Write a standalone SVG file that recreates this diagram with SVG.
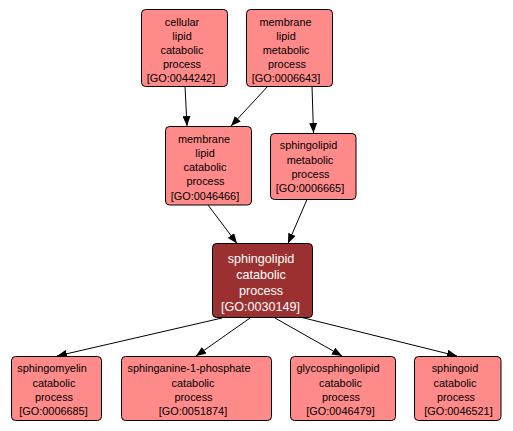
<svg xmlns="http://www.w3.org/2000/svg" width="513" height="431" viewBox="0 0 513 431">
<style>
.n rect{fill:#FF8A8A;stroke:#000;stroke-width:1}
.n text{font-family:"Liberation Sans",Arial,sans-serif;font-size:10.9px;fill:#000;text-anchor:middle}
.c rect{fill:#9B3030;stroke:#000;stroke-width:1}
.c text{font-family:"Liberation Sans",Arial,sans-serif;font-size:12.6px;fill:#fff;text-anchor:middle}
.e line{stroke:#000;stroke-width:1;marker-end:url(#a)}
</style>
<defs>
<marker id="a" markerWidth="10" markerHeight="8" refX="10" refY="4" orient="auto" markerUnits="userSpaceOnUse">
<polygon points="0,0 10,4 0,8" fill="#000"/>
</marker>
</defs>
<rect width="513" height="431" fill="#fff"/>
<g id="edges" class="e">
<line x1="185" y1="86" x2="187" y2="126"/>
<line x1="268" y1="86" x2="231" y2="126"/>
<line x1="312" y1="86" x2="313.5" y2="133"/>
<line x1="208" y1="205" x2="237" y2="243.5"/>
<line x1="307" y1="199.5" x2="288" y2="243.5"/>
<line x1="222" y1="318" x2="57" y2="356"/>
<line x1="250" y1="318" x2="196" y2="356"/>
<line x1="275" y1="318" x2="342" y2="356"/>
<line x1="300" y1="317" x2="457" y2="356"/>
</g>
<g id="n1" class="n">
<rect x="141.5" y="9.5" width="86" height="77" rx="4"/>
<text x="182" y="25.5">cellular</text>
<text x="182" y="39.5">lipid</text>
<text x="182" y="53.5">catabolic</text>
<text x="182" y="67.5">process</text>
<text x="181" y="81.5">[GO:0044242]</text>
</g>
<g id="n2" class="n">
<rect x="246.5" y="9.5" width="86" height="77" rx="4"/>
<text x="285.5" y="25.5">membrane</text>
<text x="286" y="39.5">lipid</text>
<text x="286" y="53.5">metabolic</text>
<text x="287" y="67.5">process</text>
<text x="286" y="81.5">[GO:0006643]</text>
</g>
<g id="n3" class="n">
<rect x="165.5" y="126.5" width="86" height="78.5" rx="4"/>
<text x="204" y="142.5">membrane</text>
<text x="205" y="156.7">lipid</text>
<text x="205" y="171">catabolic</text>
<text x="205.5" y="185.2">process</text>
<text x="205" y="199.5">[GO:0046466]</text>
</g>
<g id="n4" class="n">
<rect x="270.5" y="133.5" width="85.5" height="66" rx="4"/>
<text x="308.5" y="149">sphingolipid</text>
<text x="310" y="163.5">metabolic</text>
<text x="310.5" y="178">process</text>
<text x="310" y="192.3">[GO:0006665]</text>
</g>
<g id="n5" class="c">
<rect x="212.5" y="243.5" width="100" height="74" rx="4"/>
<text x="261" y="262.8">sphingolipid</text>
<text x="261" y="278.6">catabolic</text>
<text x="261" y="294.6">process</text>
<text x="260.5" y="310.5">[GO:0030149]</text>
</g>
<g id="n6" class="n">
<rect x="11.5" y="356.5" width="90" height="64" rx="4"/>
<text x="52" y="372.3">sphingomyelin</text>
<text x="54" y="386.7">catabolic</text>
<text x="54" y="400.8">process</text>
<text x="53.5" y="415">[GO:0006685]</text>
</g>
<g id="n7" class="n">
<rect x="121.5" y="356.5" width="150" height="64" rx="4"/>
<text x="189" y="372.3">sphinganine-1-phosphate</text>
<text x="193" y="386.7">catabolic</text>
<text x="193.5" y="400.8">process</text>
<text x="193" y="415">[GO:0051874]</text>
</g>
<g id="n8" class="n">
<rect x="290.5" y="356.5" width="105" height="64" rx="4"/>
<text x="338" y="372.3">glycosphingolipid</text>
<text x="340.5" y="386.7">catabolic</text>
<text x="341" y="400.8">process</text>
<text x="340.5" y="415">[GO:0046479]</text>
</g>
<g id="n9" class="n">
<rect x="414.5" y="356.5" width="86.5" height="64" rx="4"/>
<text x="455" y="372.3">sphingoid</text>
<text x="455" y="386.7">catabolic</text>
<text x="456" y="400.8">process</text>
<text x="458.5" y="415">[GO:0046521]</text>
</g>
</svg>
